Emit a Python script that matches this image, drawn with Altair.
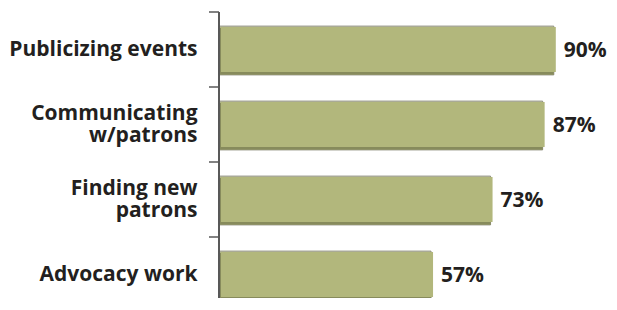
import altair as alt
import pandas as pd

categories = ["Publicizing events", "Communicating|w/patrons", "Finding new|patrons", "Advocacy work"]
values = [90, 87, 73, 57]
value_labels = ["90%", "87%", "73%", "57%"]

df = pd.DataFrame({"cat": categories, "val": values, "lab": value_labels})

FONT = "Open Sans"
TXT = "#231f20"
AX = "#595959"

y = alt.Y(
    "cat:N",
    sort=categories,
    scale=alt.Scale(range=[0, 300], paddingInner=0, paddingOuter=0),
    axis=alt.Axis(
        title=None,
        labelExpr="split(datum.label, '|')",
        ticks=False,
        domain=False,
        labelPadding=22,
        labelFont=FONT,
        labelFontWeight="bold",
        labelFontSize=21,
        labelColor=TXT,
        labelLineHeight=22,
        labelLimit=300,
        labelOffset={"condition": {"test": "indexof(datum.value, '|') >= 0", "value": -11}, "value": 0},
    ),
)
x = alt.X("val:Q", scale=alt.Scale(domain=[0, 100]), axis=None)

ticks = alt.Chart(df).mark_rule(color=AX, strokeWidth=1.5, yOffset=-37.5).encode(
    y=y, x=alt.value(-10), x2=alt.value(0)
)
domain = alt.Chart(df).mark_rule(color=AX, strokeWidth=1.5).encode(
    x=alt.value(0), y=alt.value(0), y2=alt.value(300)
)

edge_light = alt.Chart(df).mark_bar(
    fill="#d5d8b3", stroke="#8a8a78", strokeWidth=1, height={"band": 0.65}, yOffset=1
).encode(x=x, y=y)

edge_dark = alt.Chart(df).mark_bar(
    fill="#878b5c", height={"band": 0.63}, yOffset=1.5, x2Offset=-3
).encode(x=x, y=y)

main = alt.Chart(df).mark_bar(
    fill="#b2b77c", height={"band": 0.6}, yOffset=0, xOffset=2, x2Offset=-3
).encode(x=x, y=y)

text = alt.Chart(df).mark_text(
    align="left", baseline="middle", dx=10, dy=1, font=FONT, fontWeight="bold",
    fontSize=21, color=TXT
).encode(x=x, y=y, text="lab:N")

chart = (edge_light + edge_dark + main + ticks + domain + text).properties(
    width=372, height=286,
    autosize=alt.AutoSizeParams(type="none"),
    padding={"left": 211, "top": 4, "right": 18, "bottom": 0},
).configure_view(stroke=None)

chart.save("out.html", embed_options={"renderer": "svg", "actions": False})
